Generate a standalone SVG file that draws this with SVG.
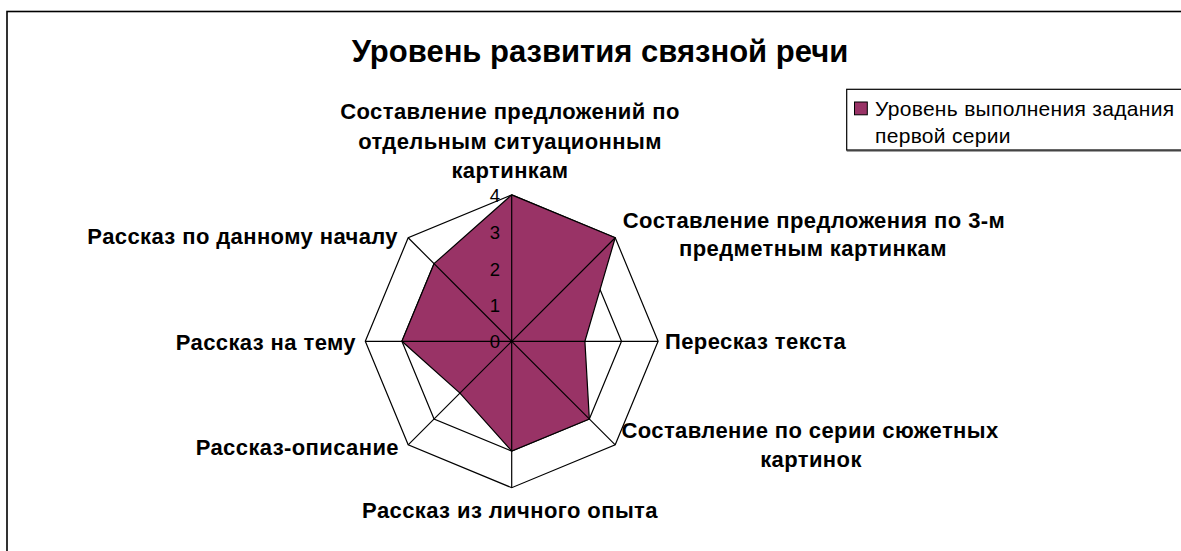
<svg xmlns="http://www.w3.org/2000/svg" width="1181" height="551" viewBox="0 0 1181 551">
<style>
.t{font-family:"Liberation Sans",Arial,sans-serif;fill:#000}
.title{font-size:31px;font-weight:bold}
.lab{font-size:22px;font-weight:bold;letter-spacing:0.4px}
.num{font-size:18.5px}
.leg{font-size:21px;letter-spacing:0.3px}
.ring{fill:none;stroke:#000;stroke-width:1.2}
.axis{stroke:#000;stroke-width:1.2}
</style>
<rect x="0" y="0" width="1181" height="551" fill="#fff"/>
<rect id="frame" x="7" y="11.5" width="1200" height="560" fill="#fff" stroke="#000" stroke-width="1.6"/>
<text class="t title" x="600" y="62" text-anchor="middle">Уровень развития связной речи</text>
<g id="plot">
<polygon class="ring" points="511.7,194.9 615.22,237.78 658.1,341.3 615.22,444.82 511.7,487.7 408.18,444.82 365.3,341.3 408.18,237.78" style="fill:#fff"/>
<polygon class="ring" points="511.7,231.5 589.34,263.66 621.5,341.3 589.34,418.94 511.7,451.1 434.06,418.94 401.9,341.3 434.06,263.66"/>
<polygon class="ring" points="511.7,268.1 563.46,289.54 584.9,341.3 563.46,393.06 511.7,414.5 459.94,393.06 438.5,341.3 459.94,289.54"/>
<polygon class="ring" points="511.7,304.7 537.58,315.42 548.3,341.3 537.58,367.18 511.7,377.9 485.82,367.18 475.1,341.3 485.82,315.42"/>
<polygon id="series" points="511.7,194.9 615.22,237.78 584.9,341.3 589.34,418.94 511.7,451.1 459.94,393.06 401.9,341.3 434.06,263.66" fill="#993366" stroke="#000" stroke-width="1.2"/>
<g id="axes">
<line class="axis" x1="511.7" y1="341.3" x2="511.7" y2="194.9"/>
<line class="axis" x1="511.7" y1="341.3" x2="615.22" y2="237.78"/>
<line class="axis" x1="511.7" y1="341.3" x2="658.1" y2="341.3"/>
<line class="axis" x1="511.7" y1="341.3" x2="615.22" y2="444.82"/>
<line class="axis" x1="511.7" y1="341.3" x2="511.7" y2="487.7"/>
<line class="axis" x1="511.7" y1="341.3" x2="408.18" y2="444.82"/>
<line class="axis" x1="511.7" y1="341.3" x2="365.3" y2="341.3"/>
<line class="axis" x1="511.7" y1="341.3" x2="408.18" y2="237.78"/>
</g>
<g id="scale">
<text class="t num" x="500" y="201.5" text-anchor="end">4</text>
<text class="t num" x="500" y="238.5" text-anchor="end">3</text>
<text class="t num" x="500" y="276" text-anchor="end">2</text>
<text class="t num" x="500" y="312" text-anchor="end">1</text>
<text class="t num" x="500" y="348" text-anchor="end">0</text>
</g>
</g>
<g id="label-top"><text class="t lab" text-anchor="middle"><tspan x="510" y="119">Составление предложений по</tspan><tspan x="510" y="149">отдельным ситуационным</tspan><tspan x="510" y="178">картинкам</tspan></text></g>
<g id="label-ur"><text class="t lab" text-anchor="middle"><tspan x="814" y="228">Составление предложения по 3-м</tspan><tspan x="813" y="256">предметным картинкам</tspan></text></g>
<g id="label-r"><text class="t lab" x="665" y="348.5">Пересказ текста</text></g>
<g id="label-lr"><text class="t lab" text-anchor="middle"><tspan x="810" y="437.5">Составление по серии сюжетных</tspan><tspan x="811" y="466.5">картинок</tspan></text></g>
<g id="label-b"><text class="t lab" x="510" y="517.5" text-anchor="middle">Рассказ из личного опыта</text></g>
<g id="label-ll"><text class="t lab" x="399" y="455" text-anchor="end">Рассказ-описание</text></g>
<g id="label-l"><text class="t lab" x="356" y="349.5" text-anchor="end">Рассказ на тему</text></g>
<g id="label-ul"><text class="t lab" x="398" y="243.5" text-anchor="end">Рассказ по данному началу</text></g>
<g id="legend">
<rect x="846.7" y="89.3" width="400" height="60.7" fill="#fff" stroke="#000" stroke-width="1.2"/>
<line x1="846.7" y1="150.8" x2="1181" y2="150.8" stroke="#444" stroke-width="1.5"/>
<rect x="854.5" y="102" width="12.8" height="12.8" fill="#993366" stroke="#000" stroke-width="1"/>
<text class="t leg"><tspan x="875" y="116">Уровень выполнения задания</tspan><tspan x="875" y="142.5">первой серии</tspan></text>
</g>
</svg>
